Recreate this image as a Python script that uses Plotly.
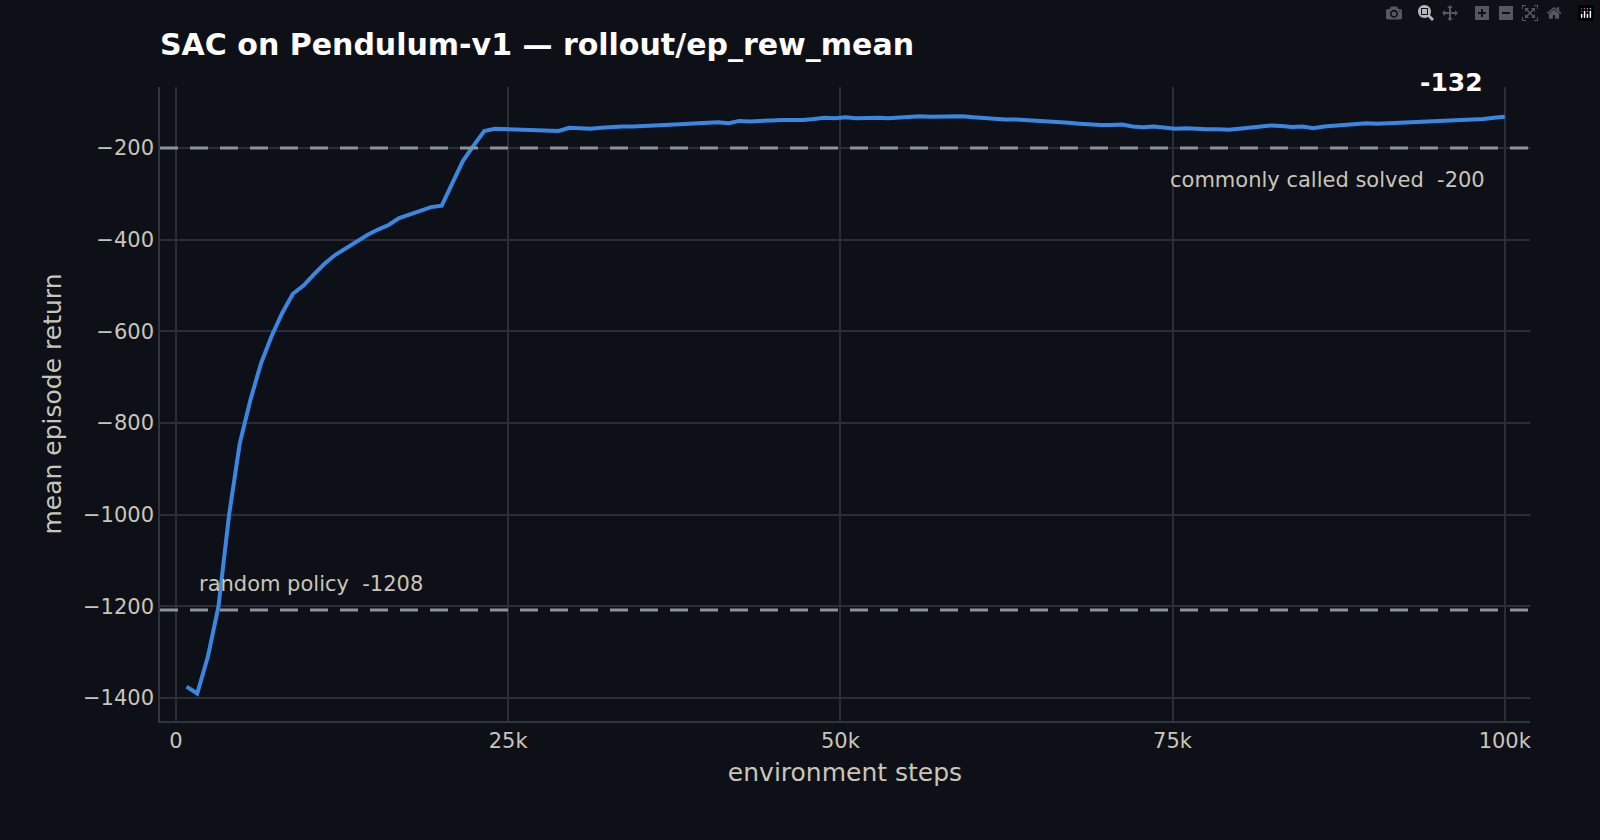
import numpy as np
import plotly.graph_objects as go

rewards = [-1375, -1390, -1310, -1200, -1000, -845, -750, -670, -610, -560,
           -518, -500, -475, -452, -433, -418, -403, -390, -378, -368,
           -353, -345, -338, -329, -326, -278, -228, -195, -163, -158,
           -159, -159, -159, -160, -161, -163, -156, -158, -158, -156,
           -154, -153, -153, -153, -151, -150, -149, -148, -148, -145,
           -144, -146, -141, -142, -142, -140, -139, -140, -139, -137,
           -134, -135, -133, -135, -134, -134, -135, -133, -131, -131,
           -132, -131, -131, -131, -133, -135, -135, -138, -138, -139,
           -142, -141, -142, -145, -147, -149, -150, -150, -149, -153,
           -155, -153, -155, -158, -157, -159, -159, -159, -160, -158,
           -156, -155, -151, -152, -154, -153, -157, -153, -151, -149,
           -148, -146, -147, -146, -145, -143, -141, -140, -139, -138,
           -138, -137, -137, -134, -132]
steps = np.linspace(800, 100000, len(rewards))
random_policy = -1208
solved = -200
final_value = -132
tick_vals = [0, 25000, 50000, 75000, 100000]
tick_text = ["0", "25k", "50k", "75k", "100k"]

bg = "#0d1017"
fig = go.Figure()
fig.add_trace(go.Scatter(x=steps, y=rewards, mode="lines",
                         line=dict(color="#3a87e3", width=4), showlegend=False))
for yv in (solved, random_policy):
    fig.add_hline(y=yv, line=dict(color="#8b949e", width=3, dash="18px,12px"))

fig.add_annotation(x=98700, y=solved, text=f"commonly called solved  {solved}",
                   showarrow=False, xanchor="right", yanchor="top", yshift=-18,
                   font=dict(size=21, color="#c9c5b9"))
fig.add_annotation(x=1600, y=random_policy, text=f"random policy  {random_policy}",
                   showarrow=False, xanchor="left", yanchor="bottom", yshift=12,
                   font=dict(size=21, color="#c9c5b9"))
fig.add_annotation(x=steps[-1], y=final_value, text=f"<b>{final_value}</b>",
                   showarrow=False, xanchor="right", yanchor="bottom", xshift=-20, yshift=18,
                   font=dict(size=25, color="#ffffff"))

axis_common = dict(showgrid=True, gridcolor="#2a2f37", gridwidth=1.5, zeroline=False,
                   showline=True, linecolor="#30363d", linewidth=1.5,
                   tickfont=dict(size=21, color="#c9c5b9"), ticks="",
                   title_font=dict(size=25, color="#c9c5b9"))
fig.update_layout(
    width=1600, height=840, paper_bgcolor=bg, plot_bgcolor=bg,
    margin=dict(l=160, r=70, t=87, b=119),
    font=dict(family="DejaVu Sans"),
    title=dict(text="<b>SAC on Pendulum-v1 — rollout/ep_rew_mean</b>", x=160/1600, xanchor="left",
               y=1 - 44/840, yanchor="middle", font=dict(size=30, color="#ffffff")),
    xaxis=dict(range=[-1200, 101900], tickvals=tick_vals, ticktext=tick_text,
               title=dict(text="environment steps", standoff=12), **axis_common),
    yaxis=dict(range=[-1450, -67], tickvals=[-1400, -1200, -1000, -800, -600, -400, -200],
               title=dict(text="mean episode return", standoff=14), **axis_common),
)
fig.write_html("out.html")
with open("out.html", encoding="utf-8") as f:
    html = f.read()
html = html.replace("<body>", f"<body style=\"margin:0;background:{bg};overflow:hidden\">", 1)
with open("out.html", "w", encoding="utf-8") as f:
    f.write(html)
